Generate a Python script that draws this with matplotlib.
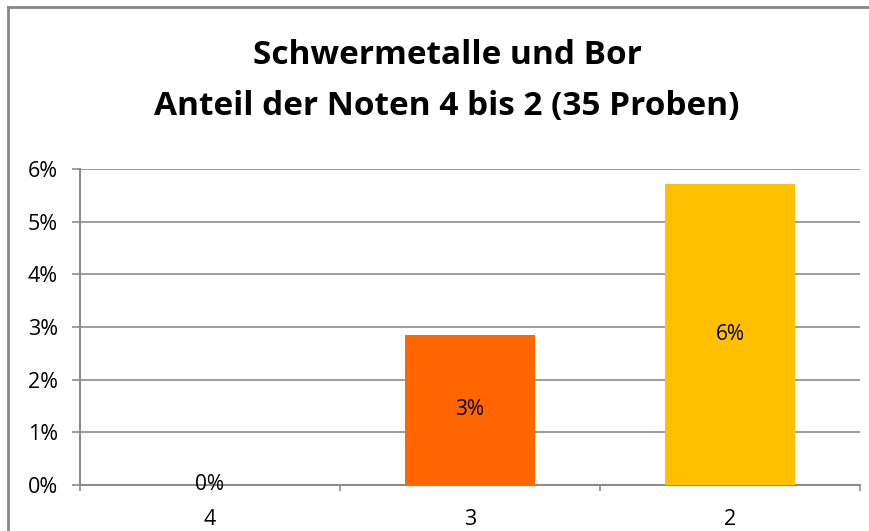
import matplotlib.pyplot as plt
from matplotlib.lines import Line2D
from matplotlib.ticker import PercentFormatter

# Daten: Anteil der Noten 4 bis 2 (35 Proben)
categories = ['4', '3', '2']
shares = [0.0, 1 / 35, 2 / 35]
labels = ['0%', '3%', '6%']
colors = ['#FF6600', '#FF6600', '#FFC000']

plt.rcParams['font.family'] = ['Open Sans', 'DejaVu Sans']

fig = plt.figure(figsize=(8.7, 5.31), dpi=100)
ax = fig.add_axes([80 / 870, 46 / 531, 780 / 870, 316 / 531])

x = range(len(categories))
ax.bar(x, shares, width=0.5, color=colors, zorder=3)

for xi, v, lab in zip(x, shares, labels):
    ax.text(xi, v / 2, lab, ha='center', va='center', fontsize=15, color='black', zorder=4)

ax.set_xlim(-0.5, 2.5)
ax.set_ylim(0, 0.06)
ax.set_yticks([0, 0.01, 0.02, 0.03, 0.04, 0.05, 0.06])
ax.yaxis.set_major_formatter(PercentFormatter(1.0, decimals=0))
ax.set_xticks(list(x))
ax.set_xticklabels(categories)
ax.set_xticks([-0.5, 0.5, 1.5, 2.5], minor=True)

grid_col = '#8C8C8C'
ax.grid(axis='y', color=grid_col, linewidth=1.2, zorder=0)
for s in ['top', 'right']:
    ax.spines[s].set_visible(False)
for s in ['left', 'bottom']:
    ax.spines[s].set_color(grid_col)
    ax.spines[s].set_linewidth(1.5)

ax.tick_params(axis='y', length=6, width=1.2, color=grid_col, labelsize=15.5, pad=10)
ax.tick_params(axis='x', which='major', length=0, labelsize=15.5, pad=17)
ax.tick_params(axis='x', which='minor', length=4, width=1.2, color=grid_col)

fig.text(0.514, 1 - 55 / 531, 'Schwermetalle und Bor', ha='center', va='center',
         fontsize=24, fontweight='bold')
fig.text(0.514, 1 - 106 / 531, 'Anteil der Noten 4 bis 2 (35 Proben)', ha='center', va='center',
         fontsize=24, fontweight='bold')

# Rahmen um das Diagramm (nur links und oben sichtbar)
border = '#868686'
fig.add_artist(Line2D([8 / 870, 8 / 870], [0, 1 - 7 / 531], transform=fig.transFigure,
                      color=border, linewidth=2))
fig.add_artist(Line2D([8 / 870, 1], [1 - 7 / 531, 1 - 7 / 531], transform=fig.transFigure,
                      color=border, linewidth=2))

fig.savefig('out.png', dpi=100)
